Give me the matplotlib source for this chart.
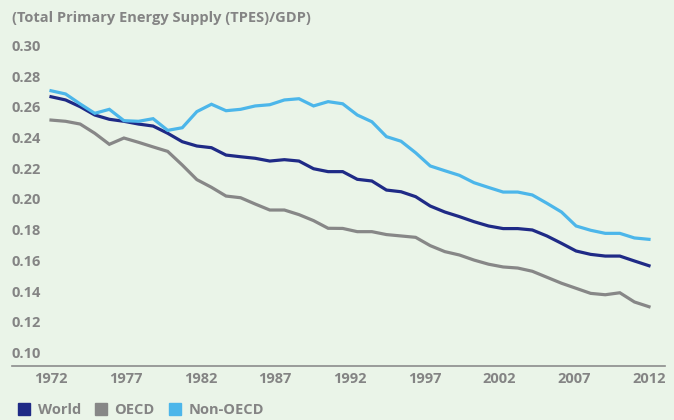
import matplotlib
import numpy as np

matplotlib.use("Agg")
import matplotlib.pyplot as plt
from matplotlib.lines import Line2D

plt.rcParams["font.family"] = ["Open Sans", "DejaVu Sans"]

# annual values, 1971-2012
world = [
    0.2676, 0.2655, 0.2611, 0.2557, 0.2529, 0.2516, 0.2498, 0.2485, 0.2438, 0.2383,
    0.2355, 0.2344, 0.2296, 0.2285, 0.2275, 0.2257, 0.2266, 0.2257, 0.2207, 0.2188,
    0.2188, 0.2138, 0.2127, 0.2068, 0.2057, 0.2025, 0.1964, 0.1925, 0.1895, 0.1862,
    0.1834, 0.1817, 0.1817, 0.1808, 0.1769, 0.1721, 0.1671, 0.1649, 0.1638, 0.1638,
    0.1606, 0.1575,
]
oecd = [
    0.2524, 0.2516, 0.2498, 0.2438, 0.2366, 0.2407, 0.2379, 0.2349, 0.2320, 0.2231,
    0.2136, 0.2086, 0.2029, 0.2018, 0.1977, 0.1938, 0.1938, 0.1908, 0.1869, 0.1819,
    0.1818, 0.1797, 0.1797, 0.1778, 0.1769, 0.1760, 0.1706, 0.1667, 0.1645, 0.1612,
    0.1585, 0.1567, 0.1560, 0.1539, 0.1500, 0.1461, 0.1428, 0.1395, 0.1386, 0.1399,
    0.1339, 0.1308,
]
non_oecd = [
    0.2715, 0.2694, 0.2629, 0.2568, 0.2594, 0.2520, 0.2516, 0.2533, 0.2457, 0.2474,
    0.2579, 0.2627, 0.2585, 0.2594, 0.2616, 0.2624, 0.2655, 0.2663, 0.2616, 0.2644,
    0.2630, 0.2557, 0.2513, 0.2416, 0.2386, 0.2311, 0.2225, 0.2194, 0.2164, 0.2116,
    0.2085, 0.2055, 0.2055, 0.2036, 0.1982, 0.1925, 0.1834, 0.1806, 0.1786, 0.1786,
    0.1756, 0.1747,
]
x_labels = ["1972", "1977", "1982", "1987", "1992", "1997", "2002", "2007", "2012"]
y_ticks = [0.10, 0.12, 0.14, 0.16, 0.18, 0.20, 0.22, 0.24, 0.26, 0.28, 0.30]

BG = "#eaf4e8"
TEXT = "#848484"
COLORS = {"World": "#1f2a86", "OECD": "#878787", "Non-OECD": "#4cb6ea"}
WEIGHT = "bold"
FS = 10.5

W, H = 674, 420
fig = plt.figure(figsize=(W / 100, H / 100), dpi=100, facecolor=BG)
ax = fig.add_axes([12 / W, 1 - 366 / H, 653 / W, 326 / H], facecolor=BG)

x = np.arange(len(world))
series = [("World", world), ("OECD", oecd), ("Non-OECD", non_oecd)]
for name, values in series:
    ax.plot(x, values, color=COLORS[name], lw=2.3, solid_joinstyle="miter")

n = len(x)
px = 598 / (n - 1)
ax.set_xlim(-39 / px, (n - 1) + 16 / px)
ax.set_ylim(0.10 - 12 / 1535, 0.30 + 7 / 1535)

for spine in ("top", "right", "left"):
    ax.spines[spine].set_visible(False)
ax.spines["bottom"].set_color("#8c8c8c")
ax.spines["bottom"].set_linewidth(1.2)

ax.set_xticks(np.linspace(0, n - 1, len(x_labels)))
ax.set_xticklabels(x_labels, fontsize=FS, fontweight=WEIGHT, color=TEXT)
ax.tick_params(axis="x", length=0, pad=4)
ax.set_yticks([])

for v in y_ticks:
    ax.text(0, v, f"{v:.2f}", transform=ax.get_yaxis_transform(), ha="left",
            va="center", fontsize=FS, fontweight=WEIGHT, color=TEXT)

fig.text(12 / W, 1 - 18 / H, "(Total Primary Energy Supply (TPES)/GDP)",
         ha="left", va="center", fontsize=FS, fontweight=WEIGHT, color=TEXT)

handles = [Line2D([], [], ls="none", marker="s", markersize=8,
                  markerfacecolor=COLORS[name], markeredgecolor=COLORS[name])
           for name, _ in series]
fig.legend(handles, [name for name, _ in series], loc="center left",
           bbox_to_anchor=(4 / W, 1 - 410 / H), ncol=3, frameon=False,
           handletextpad=0.4, columnspacing=0.9, handlelength=1.0,
           prop={"size": FS, "weight": WEIGHT}, labelcolor=TEXT)

fig.savefig("out.png", dpi=100, facecolor=BG)
